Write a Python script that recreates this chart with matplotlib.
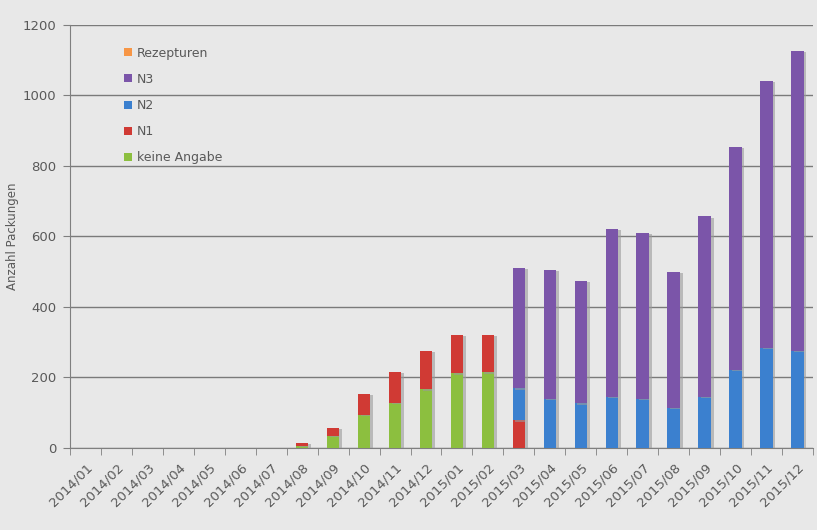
import matplotlib.pyplot as plt
import matplotlib.patheffects as pe
import numpy as np

# months 2014/01 .. 2015/12
months = ['2014/01', '2014/02', '2014/03', '2014/04', '2014/05', '2014/06',
          '2014/07', '2014/08', '2014/09', '2014/10', '2014/11', '2014/12',
          '2015/01', '2015/02', '2015/03', '2015/04', '2015/05', '2015/06',
          '2015/07', '2015/08', '2015/09', '2015/10', '2015/11', '2015/12']

# package counts per category
keine_angabe = [0, 0, 0, 0, 0, 0, 0, 6, 34, 94, 129, 167, 212, 215, 0, 0, 0, 0, 0, 0, 0, 0, 0, 0]
n1 = [0, 0, 0, 0, 0, 0, 0, 8, 23, 59, 87, 108, 109, 106, 79, 0, 0, 0, 0, 0, 0, 0, 0, 0]
n2 = [0, 0, 0, 0, 0, 0, 0, 0, 0, 0, 0, 0, 0, 0, 90, 139, 127, 145, 139, 114, 145, 221, 285, 275]
n3 = [0, 0, 0, 0, 0, 0, 0, 0, 0, 0, 0, 0, 0, 0, 342, 366, 347, 477, 471, 386, 512, 633, 756, 851]
rezepturen = [0] * 24

series = [('keine Angabe', keine_angabe, '#8cbf3f'),
          ('N1', n1, '#d03a34'),
          ('N2', n2, '#3b80cf'),
          ('N3', n3, '#7b55a9'),
          ('Rezepturen', rezepturen, '#f79646')]

bg = '#e8e8e8'
txt = '#595959'

fig = plt.figure(figsize=(8.17, 5.30), dpi=100, facecolor=bg)
ax = fig.add_axes([0.0857, 0.1547, 0.9093, 0.7983], facecolor=bg)

x = np.arange(len(months))
bottom = np.zeros(len(months))
shadow = [pe.SimplePatchShadow(offset=(2, -1), shadow_rgbFace='#9a9a9a', alpha=0.6), pe.Normal()]
for name, vals, col in series:
    vals = np.array(vals, dtype=float)
    bars = ax.bar(x, vals, width=0.4, bottom=bottom, color=col, label=name, zorder=3)
    for b in bars:
        b.set_path_effects(shadow)
    bottom += vals

ax.set_xlim(-0.5, len(months) - 0.5)
ax.set_ylim(0, 1200)
ax.set_yticks(np.arange(0, 1201, 200))
ax.yaxis.grid(True, color='#7a7a7a', linewidth=1.0, zorder=0)

ax.set_xticks(x)
ax.set_xticklabels(months, rotation=45, ha='right', rotation_mode='anchor')
ax.set_xticks(np.arange(-0.5, len(months)), minor=True)
ax.tick_params(axis='x', which='major', length=0, pad=9, labelsize=9.5, labelcolor=txt)
ax.tick_params(axis='x', which='minor', length=5, color='#7f7f7f', direction='out')
ax.tick_params(axis='y', length=5, color='#7f7f7f', labelsize=9.5, labelcolor=txt, pad=5)

for s in ['top', 'right']:
    ax.spines[s].set_visible(False)
for s in ['left', 'bottom']:
    ax.spines[s].set_color('#7f7f7f')

ax.set_ylabel('Anzahl Packungen', color=txt, fontsize=8.5)
ax.yaxis.set_label_coords(-0.068, 0.5)

h, l = ax.get_legend_handles_labels()
leg = ax.legend(h[::-1], l[::-1], loc='upper left', bbox_to_anchor=(0.058, 0.975),
                frameon=False, fontsize=9, handlelength=0.6, handleheight=0.6,
                handletextpad=0.4, labelspacing=1.05, labelcolor=txt)
for p in leg.get_patches():
    p.set_path_effects([])

fig.savefig('out.png', dpi=100, facecolor=bg)
